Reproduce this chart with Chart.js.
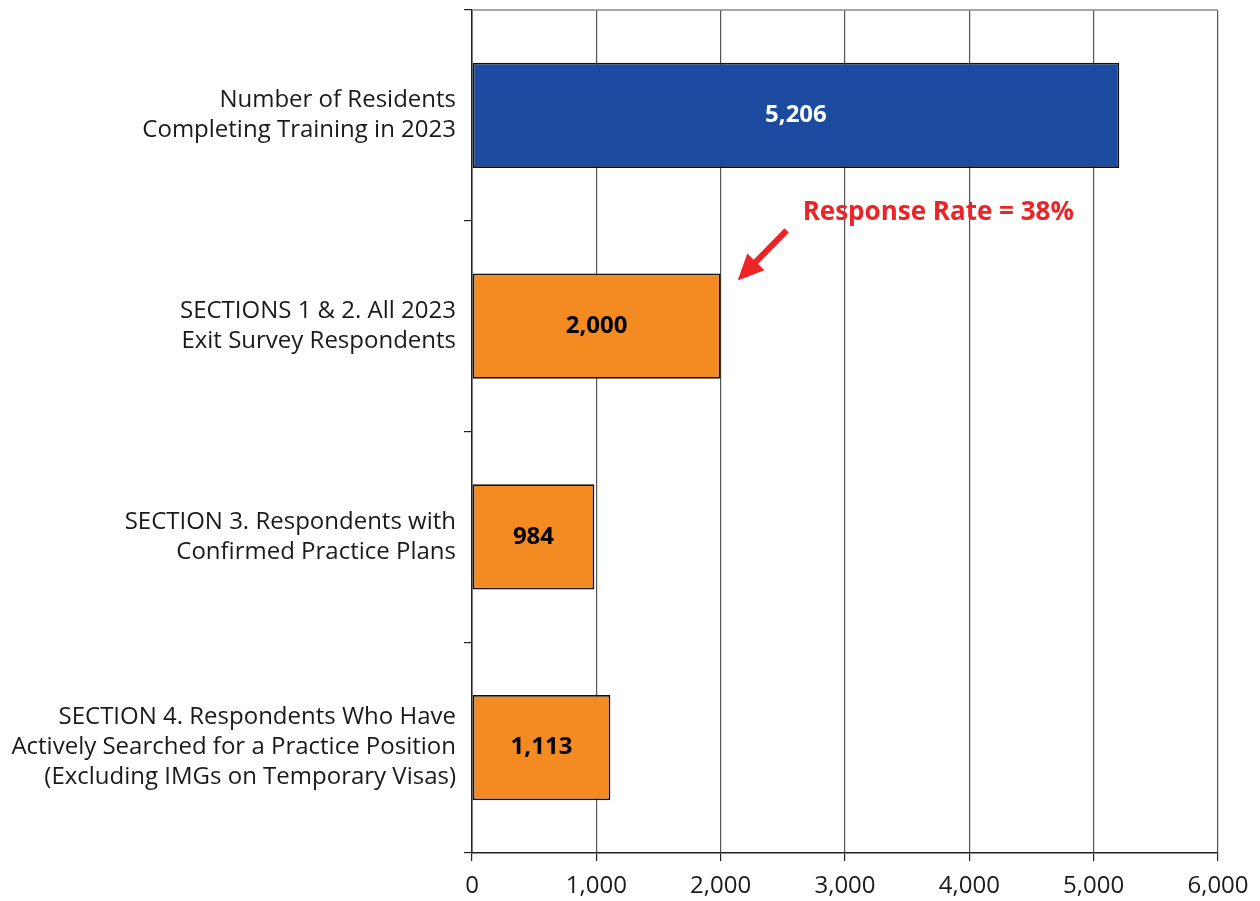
<!DOCTYPE html>
<html>
<head>
<meta charset="utf-8">
<script src="https://cdn.jsdelivr.net/npm/chart.js@4"></script>
<style>
  html, body { margin: 0; padding: 0; background: #fff; }
  #wrap { width: 1260px; height: 901px; }
</style>
</head>
<body>
<div id="wrap"><canvas id="chart" width="1260" height="901"></canvas></div>
<script>
// categories (multi-line labels)
const categories = [
    ['Number of Residents', 'Completing Training in 2023'],
    ['SECTIONS 1 & 2. All 2023', 'Exit Survey Respondents'],
    ['SECTION 3. Respondents with', 'Confirmed Practice Plans'],
    ['SECTION 4. Respondents Who Have', 'Actively Searched for a Practice Position', '(Excluding IMGs on Temporary Visas)']
];
const counts = [5206, 2000, 984, 1113];
const barColors = ['#1b4a9e', '#f48a22', '#f48a22', '#f48a22'];
const labelColors = ['#ffffff', '#000000', '#000000', '#000000'];
const xTicks = [0, 1000, 2000, 3000, 4000, 5000, 6000];
const noteText = 'Response Rate = 38%';

const FONT = "'Open Sans', 'Noto Sans', sans-serif";

// подписи значений внутри столбцов + стрелка с примечанием
const overlay = {
    id: 'overlay',
    beforeDatasetsDraw(chart) {
        const a = chart.chartArea;
        const ctx = chart.ctx;
        ctx.save();
        ctx.strokeStyle = '#8a8a8a';
        ctx.lineWidth = 1.5;
        ctx.beginPath();
        ctx.moveTo(a.left, a.top);
        ctx.lineTo(a.right, a.top);
        ctx.stroke();
        ctx.restore();
    },
    afterDatasetsDraw(chart) {
        const ctx = chart.ctx;
        const meta = chart.getDatasetMeta(0);
        const xs = chart.scales.x;
        ctx.save();
        ctx.font = 'bold 24px ' + FONT;
        ctx.textAlign = 'center';
        ctx.textBaseline = 'middle';
        meta.data.forEach((bar, i) => {
            const cx = (bar.base + bar.x) / 2;
            ctx.fillStyle = labelColors[i];
            ctx.fillText(counts[i].toLocaleString('en-US'), cx, bar.y);
        });

        // стрелка к второму столбцу
        const bar2 = meta.data[1];
        const tipX = xs.getPixelForValue(counts[1]) + 17;
        const tipY = bar2.y - bar2.height / 2 + 7;
        const tailX = tipX + 49;
        const tailY = tipY - 50;
        const ang = Math.atan2(tipY - tailY, tipX - tailX);
        ctx.strokeStyle = '#ee2326';
        ctx.fillStyle = '#ee2326';
        ctx.lineWidth = 6;
        ctx.beginPath();
        ctx.moveTo(tailX, tailY);
        ctx.lineTo(tipX - 14 * Math.cos(ang), tipY - 14 * Math.sin(ang));
        ctx.stroke();
        const hl = 26, hw = 12;
        const bx = tipX - hl * Math.cos(ang), by = tipY - hl * Math.sin(ang);
        ctx.beginPath();
        ctx.moveTo(tipX, tipY);
        ctx.lineTo(bx + hw * Math.sin(ang), by - hw * Math.cos(ang));
        ctx.lineTo(bx - hw * Math.sin(ang), by + hw * Math.cos(ang));
        ctx.closePath();
        ctx.fill();

        ctx.font = 'bold 26px ' + FONT;
        ctx.textAlign = 'left';
        ctx.fillText(noteText, tailX + 16, tailY - 18);
        ctx.restore();
    }
};

new Chart(document.getElementById('chart'), {
    type: 'bar',
    data: {
        labels: categories,
        datasets: [{
            data: counts,
            backgroundColor: barColors,
            borderColor: '#111',
            borderWidth: 1.8,
            borderSkipped: false,
            barPercentage: 0.5,
            categoryPercentage: 1.0
        }]
    },
    options: {
        indexAxis: 'y',
        responsive: false,
        animation: false,
        layout: { padding: { top: 10, right: 42, left: 0, bottom: 0 } },
        plugins: {
            legend: { display: false },
            tooltip: { enabled: false }
        },
        scales: {
            x: {
                min: 0,
                max: 6000,
                afterBuildTicks: scale => { scale.ticks = xTicks.map(v => ({ value: v })); },
                afterFit: scale => { scale.height = 48; scale.paddingLeft = 0; scale.paddingRight = 0; },
                ticks: {
                    color: '#1a1a1a',
                    font: { family: FONT, size: 24 },
                    padding: 11,
                    maxRotation: 0,
                    callback: v => Number(v).toLocaleString('en-US')
                },
                grid: {
                    color: '#555',
                    lineWidth: 1.2,
                    tickLength: 8,
                    tickColor: '#222'
                },
                border: { color: '#222', width: 1.5 }
            },
            y: {
                afterFit: scale => { scale.width = 472; scale.paddingTop = 0; scale.paddingBottom = 0; },
                ticks: {
                    color: '#1a1a1a',
                    font: { family: FONT, size: 24, lineHeight: 1.25 },
                    padding: 8
                },
                grid: {
                    offset: true,
                    drawOnChartArea: false,
                    tickLength: 8,
                    color: '#222',
                    lineWidth: 1.2
                },
                border: { color: '#222', width: 1.5 }
            }
        }
    },
    plugins: [overlay]
});
</script>
</body>
</html>
